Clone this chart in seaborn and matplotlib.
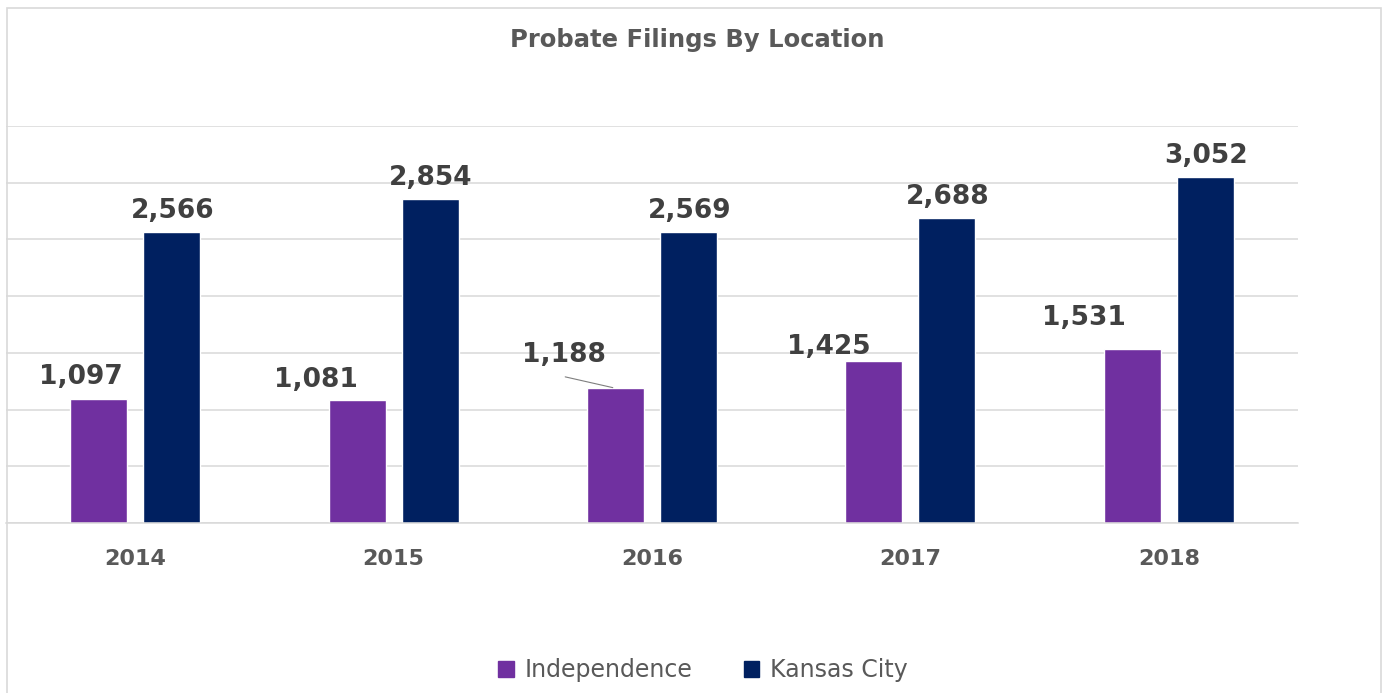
"""
Probate Filings By Location — recriação do gráfico de barras agrupadas
"""

import pandas as pd
import matplotlib.pyplot as plt
import matplotlib.patches as mpatches
import seaborn as sns

# ---------------------------------------------------------------------------
# Dados
# ---------------------------------------------------------------------------
YEARS        = ["2014", "2015", "2016", "2017", "2018"]
INDEPENDENCE = [1097, 1081, 1188, 1425, 1531]
KANSAS_CITY  = [2566, 2854, 2569, 2688, 3052]
SERIES       = ["Independence", "Kansas City"]

# deslocamento (px) dos rótulos de Independence em relação ao topo da barra
IND_LABEL_OFFSETS = [(-18, 22), (-41, 20), (-52, 33), (-45, 14), (-48, 31)]
KC_LABEL_OFFSET   = (1, 21)

# ---------------------------------------------------------------------------
# Paleta
# ---------------------------------------------------------------------------
PURPLE = "#7030A0"
NAVY   = "#002060"
GRID   = "#D9D9D9"
TEXT   = "#404040"
TICK   = "#595959"

df = pd.DataFrame({
    "Ano":    YEARS * 2,
    "Filings": INDEPENDENCE + KANSAS_CITY,
    "Local":  [SERIES[0]] * len(YEARS) + [SERIES[1]] * len(YEARS),
})

sns.set_theme(style="white")
plt.rcParams["font.family"] = ["DejaVu Sans"]

W, H, DPI = 1382, 693, 100
fig = plt.figure(figsize=(W / DPI, H / DPI), dpi=DPI)
ax = fig.add_axes([6 / W, (H - 523) / H, 1292 / W, (523 - 126) / H])

sns.barplot(
    data=df, x="Ano", y="Filings", hue="Local",
    palette=[PURPLE, NAVY], width=0.565, gap=0.22,
    saturation=1, legend=False, ax=ax,
)

ax.set_ylim(0, 3500)
ax.set_yticks(range(0, 3501, 500))
ax.yaxis.grid(True, color=GRID, linewidth=1.1)
ax.set_axisbelow(True)
ax.set_yticklabels([])
ax.tick_params(axis="y", length=0)
ax.tick_params(axis="x", length=0, pad=19, labelsize=16, labelcolor=TICK)
for lbl in ax.get_xticklabels():
    lbl.set_fontweight("bold")
for side in ["top", "right", "left"]:
    ax.spines[side].set_visible(False)
ax.spines["bottom"].set_color(GRID)
ax.spines["bottom"].set_linewidth(1.1)
ax.set_xlabel("")
ax.set_ylabel("")

# ---------------------------------------------------------------------------
# Rótulos de dados
# ---------------------------------------------------------------------------
ind_bars, kc_bars = ax.containers[0], ax.containers[1]

for bar, val, (dx, dy) in zip(ind_bars, INDEPENDENCE, IND_LABEL_OFFSETS):
    xc = bar.get_x() + bar.get_width() / 2
    ax.annotate(f"{val:,}", xy=(xc, bar.get_height()), xytext=(dx, dy),
                textcoords="offset pixels", ha="center", va="center",
                fontsize=19, fontweight="bold", color=TEXT)

# linha de chamada do rótulo de 2016
b16 = ind_bars[2]
ax.annotate("", xy=(b16.get_x() + b16.get_width() / 2, b16.get_height()),
            xytext=(-53, 12), textcoords="offset pixels",
            arrowprops=dict(arrowstyle="-", color="#7F7F7F", lw=0.8))

for bar, val in zip(kc_bars, KANSAS_CITY):
    xc = bar.get_x() + bar.get_width() / 2
    ax.annotate(f"{val:,}", xy=(xc, bar.get_height()), xytext=KC_LABEL_OFFSET,
                textcoords="offset pixels", ha="center", va="center",
                fontsize=19, fontweight="bold", color=TEXT)

# ---------------------------------------------------------------------------
# Título, legenda e moldura
# ---------------------------------------------------------------------------
fig.text(697 / W, 1 - 40 / H, "Probate Filings By Location", ha="center",
         va="center", fontsize=17.5, fontweight="bold", color=TICK)

handles = [mpatches.Patch(color=c, label=s) for c, s in zip([PURPLE, NAVY], SERIES)]
fig.legend(handles=handles, loc="center", bbox_to_anchor=(703 / W, 1 - 670 / H),
           ncol=2, frameon=False, fontsize=17, labelcolor=TICK,
           handlelength=0.65, handleheight=0.65, handletextpad=0.45, columnspacing=2.2)

fig.patches.append(mpatches.Rectangle((7 / W, -0.05), 1374 / W, (H - 8) / H + 0.05,
                                      transform=fig.transFigure, fill=False,
                                      edgecolor=GRID, linewidth=1.2))

fig.savefig("out.png", dpi=DPI)
